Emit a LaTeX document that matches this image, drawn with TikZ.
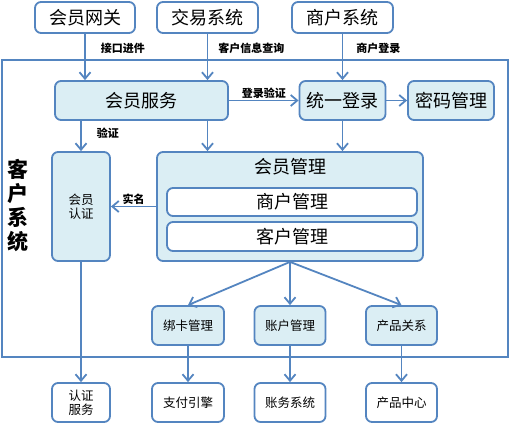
\documentclass[tikz,border=0pt]{standalone}
\usepackage{fontspec}
\setmainfont{Noto Sans CJK SC}
\usetikzlibrary{arrows.meta}
\definecolor{lineblue}{RGB}{84,133,192}
\definecolor{paleblue}{RGB}{219,238,244}

\begin{document}
\begin{tikzpicture}[x=1pt,y=-1pt,->,>={Straight Barb[length=6.5pt,width=11pt]},line width=1.8pt,
    main node/.style={rectangle,rounded corners=6pt,draw=lineblue,line width=1.8pt,fill=paleblue,align=center,inner sep=0pt,font=\fontsize{18}{20}\selectfont},
    ext node/.style={main node,fill=white},
    small node/.style={main node,font=\fontsize{12.5}{14}\selectfont},
    edge label/.style={font=\fontsize{11}{12}\selectfont\bfseries,inner sep=1pt}]
                \useasboundingbox (0,0) rectangle (510,425);
                \draw[-,draw=lineblue] (2,60) rectangle (508,357);
                \node [font=\fontsize{21}{23.7}\selectfont\bfseries, align=center](0) at (18.5,205.5){客\\户\\系\\统};

                \node [ext node, minimum width=100, minimum height=31](1) at (85,17.5){会员网关};
                \node [ext node, minimum width=101, minimum height=31](2) at (207.5,17.5){交易系统};
                \node [ext node, minimum width=101, minimum height=31](3) at (342.5,17.5){商户系统};

                \node [main node, minimum width=173, minimum height=39](4) at (141.5,100.5){会员服务};
                \node [main node, minimum width=86, minimum height=39](5) at (342.5,100.5){统一登录};
                \node [main node, minimum width=86, minimum height=39](6) at (451,100.5){密码管理};

                \node [small node, minimum width=58, minimum height=109](7) at (81,206.5){会员\\认证};
                \node [main node, minimum width=266, minimum height=109](8) at (290,206.5){};
                \node [font=\fontsize{18}{20}\selectfont](8t) at (290,167){会员管理};
                \node [ext node, minimum width=250, minimum height=28](9) at (292,202){商户管理};
                \node [ext node, minimum width=250, minimum height=29](10) at (292,236.5){客户管理};

                \node [small node, minimum width=72, minimum height=39](11) at (188,325.5){绑卡管理};
                \node [small node, minimum width=71, minimum height=39](12) at (290,325.5){账户管理};
                \node [small node, minimum width=71, minimum height=39](13) at (401.5,325.5){产品关系};

                \node [small node, fill=white, minimum width=58, minimum height=39](14) at (81,402.5){认证\\服务};
                \node [small node, fill=white, minimum width=72, minimum height=39](15) at (188,402.5){支付引擎};
                \node [small node, fill=white, minimum width=71, minimum height=39](16) at (290,402.5){账务系统};
                \node [small node, fill=white, minimum width=71, minimum height=39](17) at (401.5,402.5){产品中心};

                \path[every edge/.style={draw=lineblue}]
                    (1) edge node[edge label, pos=0.32, anchor=west, xshift=14]{接口进件} (1 |- 4.north)
                    (2) edge node[edge label, pos=0.32, anchor=west, xshift=9]{客户信息查询} (2 |- 4.north)
                    (3) edge node[edge label, pos=0.32, anchor=west, xshift=12]{商户登录} (5)

                    (4) edge node[edge label, above]{登录验证} (5)
                    (5) edge (6)
                    (4.south -| 7) edge node[edge label, pos=0.4, anchor=west, xshift=14]{验证} (7)
                    (4.south -| 2) edge (8.north -| 2)
                    (5) edge (5 |- 8.north)
                    (8) edge node[edge label, above]{实名} (7)

                    (8.south) edge (11.north)
                    (8.south) edge (12)
                    (8.south) edge (13.north)

                    (7) edge (14)
                    (11) edge (15)
                    (12) edge (16)
                    (13) edge (17)
                    ;
            \end{tikzpicture}
\end{document}
